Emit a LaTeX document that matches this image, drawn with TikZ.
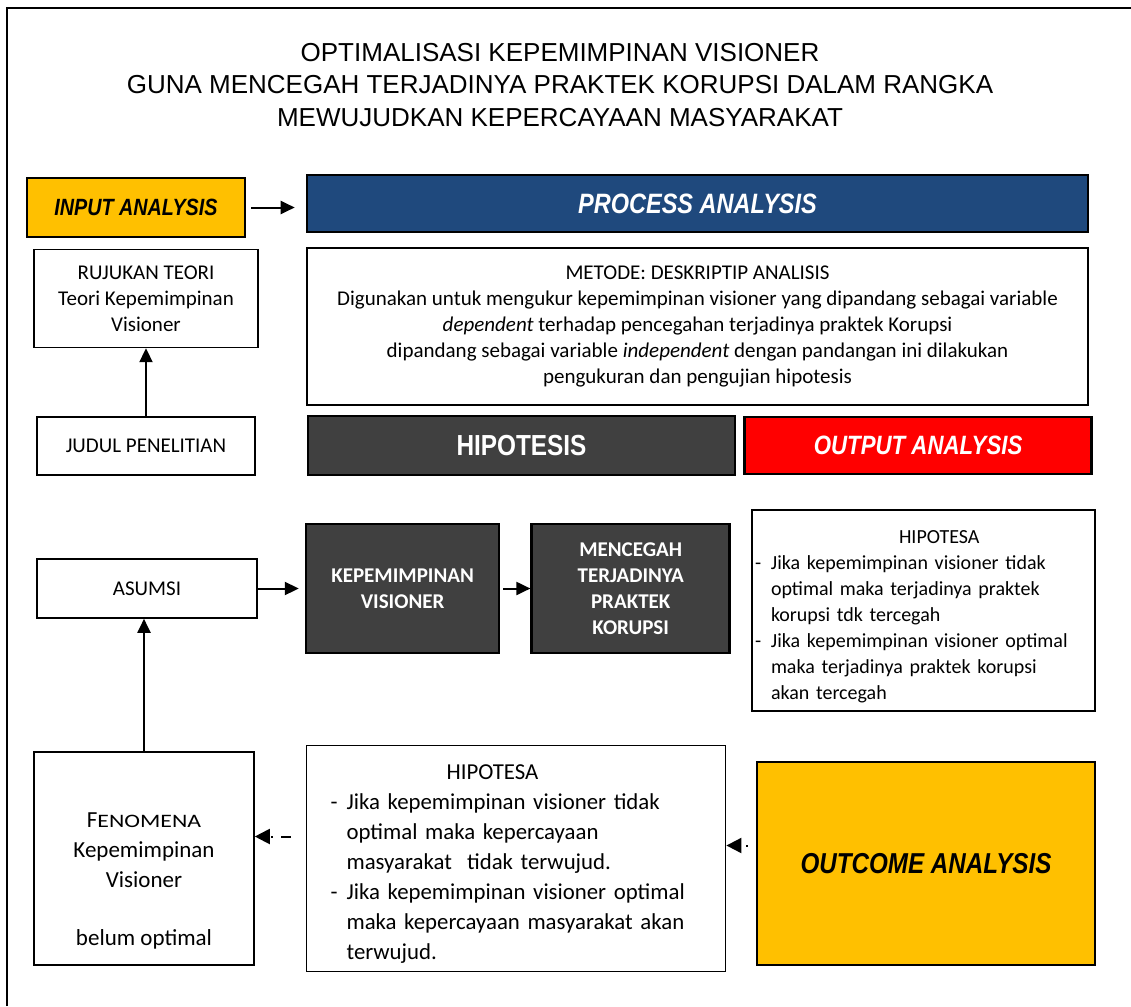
\documentclass[tikz,border=0pt]{standalone}
\usepackage{fontspec}
\setmainfont{Carlito}
\newfontfamily\titlefont{Liberation Sans}
\newfontfamily\narrowfont[FakeStretch=0.84]{Liberation Sans}
\usepackage{graphicx}
\usepackage{xcolor}
\usepackage{tikz}
\usetikzlibrary{positioning,arrows.meta}
\definecolor{inputyellow}{HTML}{FFC000}
\definecolor{processblue}{HTML}{1F497D}
\definecolor{darkbox}{HTML}{404040}
\definecolor{outputred}{HTML}{FF0000}

\begin{document}
\begin{tikzpicture}[x=1pt, y=-1pt,
                plainbox/.style={rectangle, draw=black, line width=1.6pt, fill=white, inner sep=2pt, align=center, font=\fontsize{21}{26}\selectfont},
                colorbox/.style={rectangle, draw=black, line width=2.6pt, inner sep=2pt, align=center},
                headfont/.style={font=\narrowfont\bfseries\itshape\fontsize{#1}{#1}\selectfont},
                arrow/.style={line width=2pt, -{Triangle[length=14pt, width=13pt]}},
                dasharrow/.style={line width=2pt, dash pattern=on 10pt off 8pt on 2pt off 8pt, -{Triangle[length=15pt, width=15pt]}}
                ]
                \useasboundingbox (0,0) rectangle (1131,1006);
                \draw[line width=2pt] (7,1006) -- (7,8) -- (1131,8);
                \node[font=\titlefont\fontsize{26}{32.5}\selectfont, align=center] (title) at (560,85) {OPTIMALISASI KEPEMIMPINAN VISIONER\\GUNA MENCEGAH TERJADINYA PRAKTEK KORUPSI DALAM RANGKA\\MEWUJUDKAN KEPERCAYAAN MASYARAKAT};
                % input and process
                \node[colorbox, fill=inputyellow, headfont=23.5, minimum width=218pt, minimum height=59pt] (input) at (136,207.5) {INPUT ANALYSIS};
                \node[colorbox, fill=processblue, text=white, headfont=28, minimum width=781pt, minimum height=57pt] (process) at (697.5,203.5) {PROCESS ANALYSIS};
                \node[plainbox, minimum width=781pt, minimum height=157pt] (metode) [below=14pt of process] {METODE: DESKRIPTIP ANALISIS\\Digunakan untuk mengukur kepemimpinan visioner yang dipandang sebagai variable\\\textit{dependent} terhadap pencegahan terjadinya praktek Korupsi\\dipandang sebagai variable \textit{independent} dengan pandangan ini dilakukan\\pengukuran dan pengujian hipotesis};
                \node[plainbox, minimum width=218pt, minimum height=58pt] (judul) at (146,446) {JUDUL PENELITIAN};
                \node[plainbox, minimum width=224pt, minimum height=98pt] (rujukan) [above=68pt of judul] {RUJUKAN TEORI\\Teori Kepemimpinan\\Visioner};
                \node[colorbox, fill=darkbox, text=white, font=\narrowfont\bfseries\fontsize{29}{29}\selectfont, minimum width=427pt, minimum height=59pt] (hipotesis) at (521.5,445.5) {HIPOTESIS};
                \node[colorbox, fill=outputred, text=white, headfont=26.5, minimum width=347pt, minimum height=57pt] (output) [right=7pt of hipotesis] {OUTPUT ANALYSIS};
                % middle row
                \node[plainbox, minimum width=220pt, minimum height=59pt] (asumsi) at (147,588.5) {ASUMSI};
                \node[colorbox, fill=darkbox, text=white, font=\bfseries\fontsize{21}{26}\selectfont, minimum width=193pt, minimum height=129pt] (kepemimpinan) [right=47pt of asumsi] {KEPEMIMPINAN\\VISIONER};
                \node[colorbox, fill=darkbox, text=white, font=\bfseries\fontsize{21}{26}\selectfont, minimum width=198pt, minimum height=129pt] (mencegah) [right=30pt of kepemimpinan] {MENCEGAH\\TERJADINYA\\PRAKTEK\\KORUPSI};
                \node[plainbox, font=\fontsize{20}{26}\selectfont, align=left, inner xsep=3pt, text width=337pt, minimum height=201pt] (hipotesaA) at (923.5,610.5) {\begin{tabular}{@{}p{16pt}@{}l@{}}
                    \multicolumn{2}{@{}l@{}}{\rule{0pt}{29pt}\hspace*{144pt}HIPOTESA}\\
                    - & Jika kepemimpinan visioner tidak\\
                      & optimal maka terjadinya praktek\\
                      & korupsi tdk tercegah\\
                    - & Jika kepemimpinan visioner optimal\\
                      & maka terjadinya praktek korupsi\\
                      & akan tercegah
                    \end{tabular}};
                % bottom row
                \node[plainbox, font=\fontsize{23}{30}\selectfont, minimum width=220pt, minimum height=213pt] (fenomena) at (144,858.5) {\rule{0pt}{60pt}F\scalebox{1.25}[1]{\fontsize{19}{30}\selectfont ENOMENA}\\Kepemimpinan\\Visioner\\[28pt]belum optimal};
                \node[plainbox, font=\fontsize{22.8}{30}\selectfont, align=left, inner xsep=24pt, text width=371pt, minimum height=226pt] (hipotesaB) [right=51pt of fenomena] {\begin{tabular}{@{}p{16pt}@{}l@{}}
                    \multicolumn{2}{@{}l@{}}{\rule{0pt}{31pt}\hspace*{116pt}HIPOTESA}\\
                    - & Jika kepemimpinan visioner tidak\\
                      & optimal maka kepercayaan\\
                      & masyarakat\ \ tidak terwujud.\\
                    - & Jika kepemimpinan visioner optimal\\
                      & maka kepercayaan masyarakat akan\\
                      & terwujud.
                    \end{tabular}};
                \node[colorbox, fill=inputyellow, headfont=28.8, minimum width=338pt, minimum height=203pt] (outcome) at (926,863.5) {OUTCOME ANALYSIS};
                % connectors
                \draw[arrow, shorten <=5pt, shorten >=11pt] (input.east) -- (input.east -| process.west);
                \draw[arrow] (judul.north) -- (judul.north |- rujukan.south);
                \draw[arrow, shorten >=6pt] (asumsi.east) -- (asumsi.east -| kepemimpinan.west);
                \draw[arrow, shorten <=3pt] (kepemimpinan.east) -- (kepemimpinan.east -| mencegah.west);
                \draw[arrow] (fenomena.north) -- (fenomena.north |- asumsi.south);
                \draw[dasharrow, shorten <=15pt] ([yshift=22pt]hipotesaB.west) -- ([yshift=22pt]hipotesaB.west -| fenomena.east);
                \draw[dasharrow, dash phase=10pt] ([yshift=18pt]outcome.west) -- ([yshift=18pt]outcome.west -| hipotesaB.east);
            \end{tikzpicture}
\end{document}
